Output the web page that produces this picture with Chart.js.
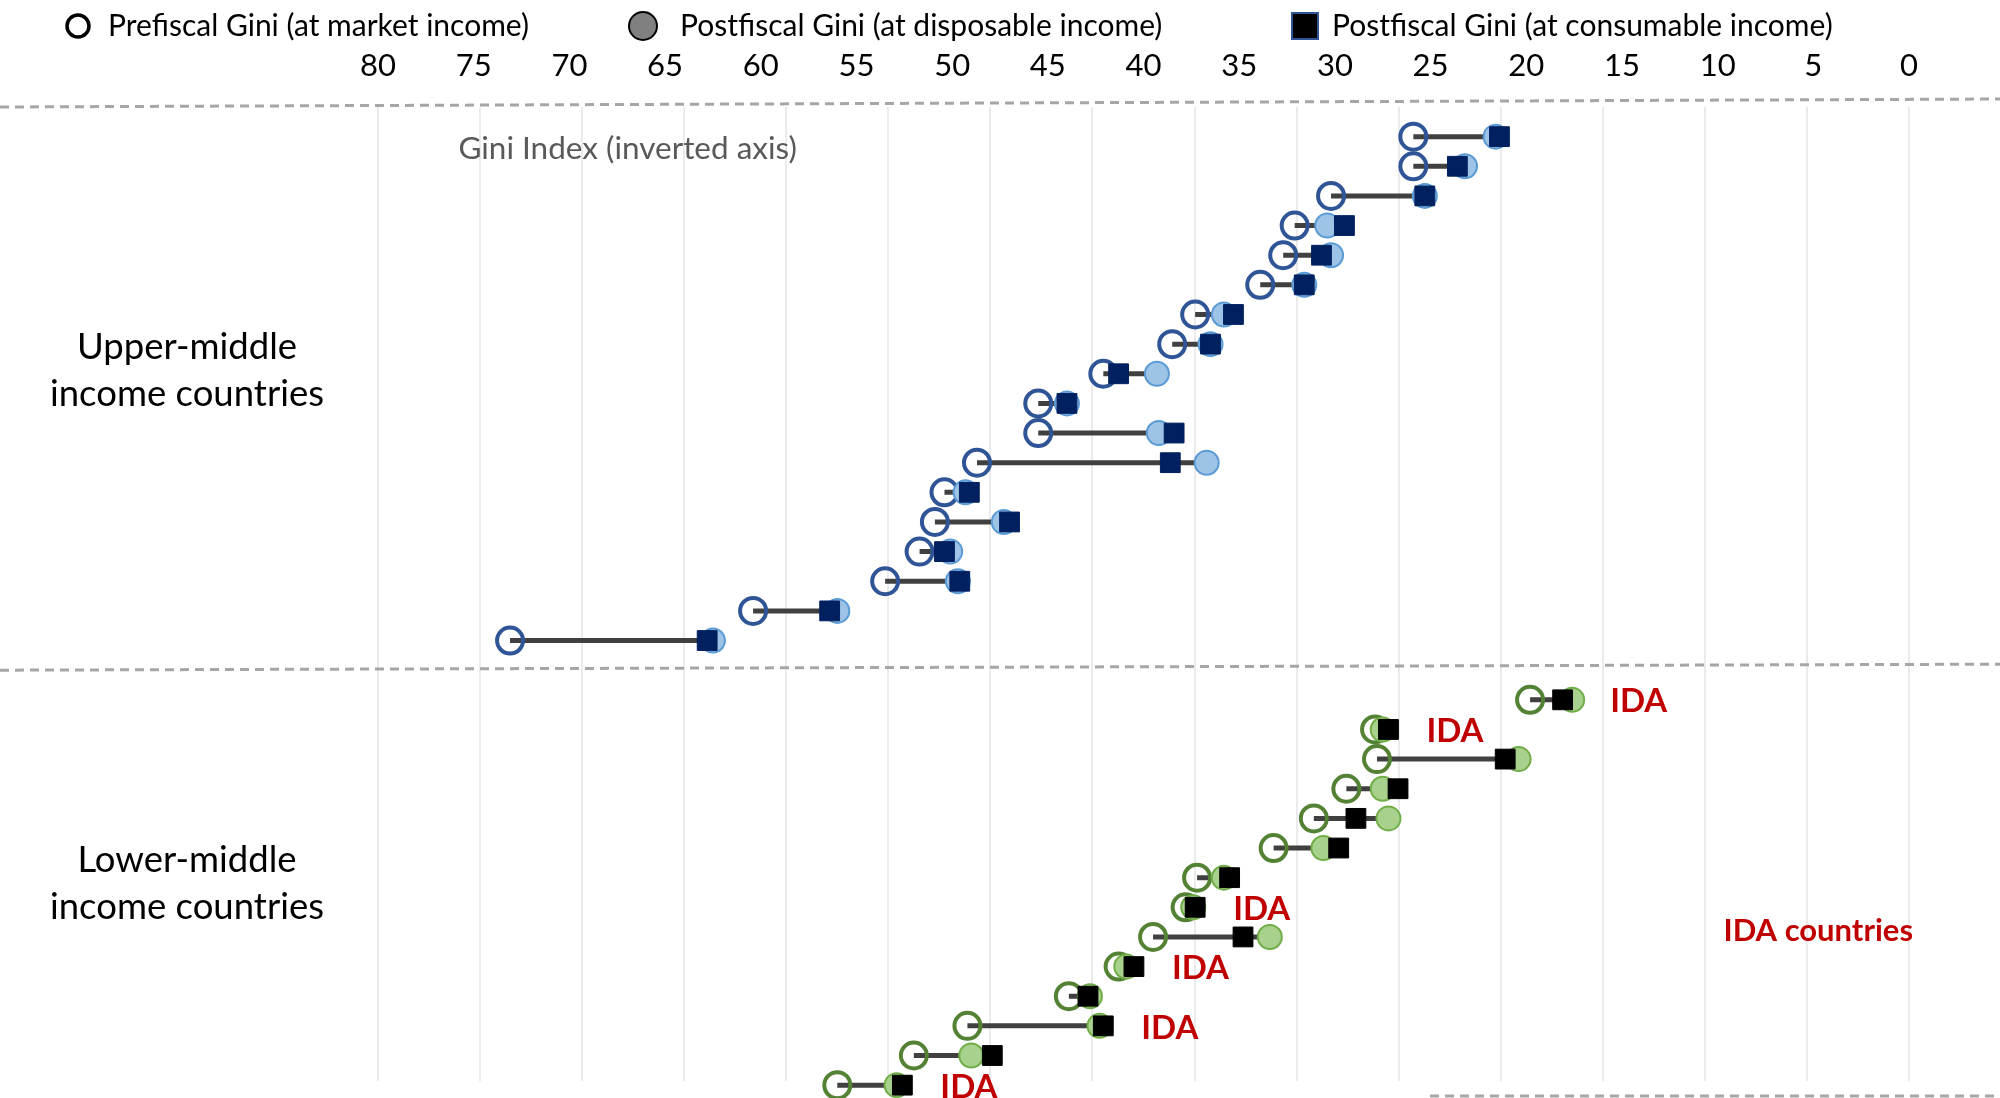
<!DOCTYPE html>
<html>
<head>
<meta charset="utf-8">
<title>Gini before and after fiscal policy</title>
<script src="https://cdn.jsdelivr.net/npm/chart.js@4.4.1/dist/chart.umd.min.js"></script>
<style>
html, body { margin: 0; padding: 0; background: #fff; }
#wrap { width: 2000px; height: 1098px; position: relative; }
</style>
</head>
<body>
<div id="wrap"><canvas id="chart-gini"></canvas></div>
<script>
// rows (top to bottom), row 18 is the gap between the two groups
var upperRows = [0, 1, 2, 3, 4, 5, 6, 7, 8, 9, 10, 11, 12, 13, 14, 15, 16, 17];
var upperPre  = [25.9, 25.9, 30.2, 32.1, 32.7, 33.9, 37.3, 38.5, 42.1, 45.5, 45.5, 48.7, 50.4, 50.9, 51.7, 53.5, 60.4, 73.1];
var upperDisp = [21.6, 23.2, 25.3, 30.4, 30.2, 31.6, 35.8, 36.5, 39.3, 44.0, 39.2, 36.7, 49.3, 47.3, 50.1, 49.7, 56.0, 62.5];
var upperCons = [21.4, 23.6, 25.3, 29.5, 30.7, 31.6, 35.3, 36.5, 41.3, 44.0, 38.4, 38.6, 49.1, 47.0, 50.4, 49.6, 56.4, 62.8];

var lowerRows = [19, 20, 21, 22, 23, 24, 25, 26, 27, 28, 29, 30, 31, 32];
var lowerPre  = [19.8, 27.9, 27.8, 29.4, 31.1, 33.2, 37.2, 37.8, 39.5, 41.3, 43.9, 49.2, 52.0, 56.0];
var lowerDisp = [17.6, 27.5, 20.4, 27.5, 27.2, 30.6, 35.8, 37.4, 33.4, 40.9, 42.8, 42.3, 49.0, 52.9];
var lowerCons = [18.1, 27.2, 21.1, 26.7, 28.9, 29.8, 35.5, 37.3, 34.8, 40.5, 42.9, 42.1, 47.9, 52.6];
var lowerIDA  = [true, true, false, false, false, false, false, true, false, true, false, true, false, true];

var groupLabels = [['Upper-middle', 'income countries'], ['Lower-middle', 'income countries']];
var groupLabelRows = [7.9, 25.2];
var legendLabels = ['Prefiscal Gini (at market income)', 'Postfiscal Gini (at disposable income)', 'Postfiscal Gini (at consumable income)'];
var axisNote = 'Gini Index (inverted axis)';
var idaText = 'IDA';
var idaNote = 'IDA countries';

var FONT = 'Lato, "Open Sans", sans-serif';

function points(rows, vals) {
  return rows.map(function (r, i) { return {x: vals[i], y: r}; });
}

function connector(rows, a, b) {
  var out = [];
  rows.forEach(function (r, i) {
    out.push({x: a[i], y: r});
    out.push({x: b[i], y: r});
    out.push({x: null, y: null});
  });
  return out;
}

function fixHeight(h) {
  return function (axis) { axis.height = h; };
}

var extras = {
  id: 'extras',
  afterDraw: function (chart) {
    var ctx = chart.ctx;
    var xs = chart.scales.x;
    var ys = chart.scales.y;
    var W = chart.width;
    ctx.save();

    // dashed separators
    ctx.strokeStyle = '#A6A6A6';
    ctx.lineWidth = 3;
    ctx.setLineDash([9, 6]);
    var yTop = ys.getPixelForValue(-1);
    var yMid = ys.getPixelForValue(18);
    ctx.beginPath();
    ctx.moveTo(0, yTop); ctx.lineTo(W, yTop - 8);
    ctx.moveTo(0, yMid); ctx.lineTo(W, yMid - 6);
    ctx.moveTo(1430, chart.height - 2); ctx.lineTo(W, chart.height - 2);
    ctx.stroke();
    ctx.setLineDash([]);

    // axis note
    ctx.fillStyle = '#595959';
    ctx.font = '31.5px ' + FONT;
    ctx.textAlign = 'left';
    ctx.textBaseline = 'middle';
    ctx.fillText(axisNote, xs.getPixelForValue(75.8), ys.getPixelForValue(0.4));

    // IDA tags
    ctx.fillStyle = '#C00000';
    ctx.font = 'bold 33px ' + FONT;
    lowerRows.forEach(function (r, i) {
      if (!lowerIDA[i]) return;
      var v = Math.min(lowerPre[i], lowerDisp[i], lowerCons[i]);
      ctx.fillText(idaText, xs.getPixelForValue(v) + 38, ys.getPixelForValue(r) + 2);
    });
    ctx.font = 'bold 31px ' + FONT;
    ctx.textAlign = 'right';
    ctx.fillText(idaNote, xs.getPixelForValue(0) + 4, ys.getPixelForValue(26.8));

    // legend
    var ly = 26;
    ctx.textAlign = 'left';
    ctx.fillStyle = '#000';
    ctx.font = '30px ' + FONT;

    ctx.beginPath();
    ctx.arc(78, ly, 11, 0, Math.PI * 2);
    ctx.lineWidth = 3.5; ctx.strokeStyle = '#000'; ctx.stroke();
    ctx.fillText(legendLabels[0], 108, ly);

    ctx.beginPath();
    ctx.arc(643, ly, 14, 0, Math.PI * 2);
    ctx.fillStyle = '#808080'; ctx.fill();
    ctx.lineWidth = 2; ctx.strokeStyle = '#000'; ctx.stroke();
    ctx.fillStyle = '#000';
    ctx.fillText(legendLabels[1], 680, ly);

    ctx.fillStyle = '#000';
    ctx.fillRect(1292, ly - 13, 26, 26);
    ctx.lineWidth = 2; ctx.strokeStyle = '#2F5597';
    ctx.strokeRect(1292, ly - 13, 26, 26);
    ctx.fillStyle = '#000';
    ctx.fillText(legendLabels[2], 1332, ly);

    ctx.restore();
  }
};

var ctx = document.getElementById('chart-gini');
new Chart(ctx, {
  type: 'scatter',
  data: {
    datasets: [{
      type: 'line', data: connector(upperRows, upperPre, upperDisp), clip: false,
      borderColor: '#404040', borderWidth: 5, pointRadius: 0, spanGaps: false, order: 4
    }, {
      data: points(upperRows, upperPre), pointStyle: 'circle', pointRadius: 13, borderWidth: 4, clip: false,
      borderColor: '#2F5597', backgroundColor: 'rgba(0,0,0,0)', order: 3
    }, {
      data: points(upperRows, upperDisp), pointStyle: 'circle', pointRadius: 12, borderWidth: 2, clip: false,
      borderColor: '#5B9BD5', backgroundColor: '#9DC3E6', order: 2
    }, {
      data: points(upperRows, upperCons), pointStyle: 'rect', pointRadius: 14, borderWidth: 1, clip: false,
      borderColor: '#002060', backgroundColor: '#002060', order: 1
    }, {
      type: 'line', data: connector(lowerRows, lowerPre, lowerDisp), clip: false,
      borderColor: '#404040', borderWidth: 5, pointRadius: 0, spanGaps: false, order: 4
    }, {
      data: points(lowerRows, lowerPre), pointStyle: 'circle', pointRadius: 13, borderWidth: 4, clip: false,
      borderColor: '#548235', backgroundColor: 'rgba(0,0,0,0)', order: 3
    }, {
      data: points(lowerRows, lowerDisp), pointStyle: 'circle', pointRadius: 12, borderWidth: 2, clip: false,
      borderColor: '#70AD47', backgroundColor: '#A9D18E', order: 2
    }, {
      data: points(lowerRows, lowerCons), pointStyle: 'rect', pointRadius: 14, borderWidth: 1, clip: false,
      borderColor: '#000000', backgroundColor: '#000000', order: 1
    }]
  },
  options: {
    responsive: true,
    maintainAspectRatio: false,
    animation: false,
    devicePixelRatio: 1,
    layout: { padding: { top: 52, right: 91, bottom: 0, left: 0 } },
    plugins: { legend: { display: false }, tooltip: { enabled: false } },
    scales: {
      x: {
        type: 'linear', position: 'top', min: 0, max: 80, reverse: true,
        grid: { display: false }, border: { display: false },
        ticks: { stepSize: 5, padding: 14, color: '#000', font: { family: FONT, size: 31 } },
        afterFit: fixHeight(55)
      },
      xg: {
        type: 'linear', position: 'top', min: 0, max: 75, reverse: true,
        grid: { color: '#EBEBEB', lineWidth: 2, drawTicks: false }, border: { display: false },
        ticks: { display: false, stepSize: 5 },
        afterFit: fixHeight(0)
      },
      y: {
        type: 'linear', min: -1, max: 31.86, reverse: true,
        grid: { display: false }, border: { display: false },
        afterBuildTicks: function (axis) {
          axis.ticks = groupLabelRows.map(function (v) { return {value: v}; });
        },
        ticks: {
          crossAlign: 'center', padding: 46, color: '#000',
          font: { family: FONT, size: 36.5, lineHeight: 1.29 },
          callback: function (value, index) { return groupLabels[index]; }
        },
        afterFit: function (axis) {
          axis.width = 378;
          axis.paddingTop = 0;
          axis.paddingBottom = 0;
        }
      }
    }
  },
  plugins: [extras]
});
</script>
</body>
</html>
